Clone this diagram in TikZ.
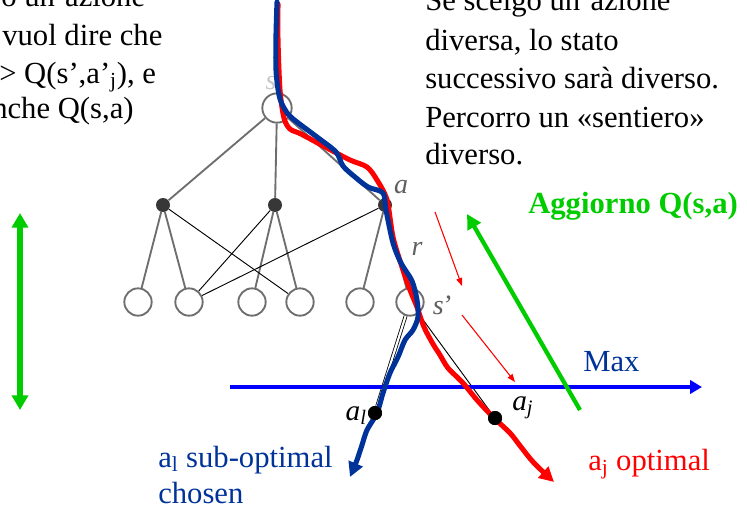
\documentclass[tikz,border=0pt]{standalone}
\usepackage{fontspec}
\setmainfont{Liberation Serif}
\usetikzlibrary{arrows.meta,positioning}
\definecolor{PathBlue}{RGB}{0,51,153}
\definecolor{PathRed}{RGB}{255,0,0}
\definecolor{AxisBlue}{RGB}{0,0,255}
\definecolor{ArrowGreen}{RGB}{0,204,0}
\definecolor{TreeGray}{RGB}{110,110,110}
\definecolor{DotGray}{RGB}{55,55,55}
\definecolor{LabelGray}{RGB}{95,95,95}

\begin{document}
\begin{tikzpicture}[x=0.75pt,y=-0.75pt,
  txt/.style={font=\fontsize{23}{28}\selectfont, inner sep=0pt, anchor=base west},
  lbl/.style={font=\fontsize{21}{25}\selectfont\itshape, text=LabelGray, inner sep=0pt},
  state/.style={circle, draw=TreeGray, line width=1.4pt, fill=white, minimum size=20.5pt, inner sep=0pt},
  act/.style={circle, fill=DotGray, minimum size=10.5pt, inner sep=0pt},
  pick/.style={circle, fill=black, minimum size=10.5pt, inner sep=0pt},
  edge/.style={draw=TreeGray, line width=1.4pt},
  crossline/.style={draw=black, line width=0.7pt},
  greenarrow/.style={draw=ArrowGreen, line width=3.2pt},
  redthin/.style={draw=PathRed, line width=0.8pt, -{Triangle[length=6pt,width=4.5pt]}},
  walk/.style={line width=3.8pt, line join=round, line cap=round,
    -{Triangle[length=11pt,width=11pt]}}]
\useasboundingbox (0,0) rectangle (747,512);
\clip (0,0) rectangle (747,512);

% text blocks
\node[txt] (lq1) at (1,6) {o un’azione};
\node[txt] (lq2) at (2,45) {vuol dire che};
\node[txt] (lq3) at (-1,83) {> Q(s’,a’\textsubscript{j}), e};
\node[txt] (lq4) at (-8,118) {nche Q(s,a)};
\node[txt] (rq1) at (425,10) {Se scelgo un’azione};
\node[txt] (rq2) at (425,50) {diversa, lo stato};
\node[txt] (rq3) at (425,88) {successivo sarà diverso.};
\node[txt] (rq4) at (425,127) {Percorro un «sentiero»};
\node[txt] (rq5) at (425,164) {diverso.};
\node[txt, font=\fontsize{23}{28}\selectfont\bfseries, text=ArrowGreen] (upd) at (528,213) {Aggiorno Q(s,a)};

% tree
\node[state, minimum size=22pt] (root) at (277,108) {};
\node[act] (d1) at (163,205) {};
\node[act] (d2) at (275,205) {};
\node[act] (d3) at (385,205) {};
\foreach \i/\xx in {1/138,2/189,3/252,4/300,5/360,6/410}
  \node[state] (l\i) at (\xx,302) {};
\draw[edge] (root) -- (d1);
\draw[edge] (root) -- (d2);
\draw[edge] (root) -- (d3);
\draw[edge] (d1) -- (l1);
\draw[edge] (d1) -- (l2);
\draw[edge] (d2) -- (l3);
\draw[edge] (d2) -- (l4);
\draw[edge] (d3) -- (l5);
\draw[edge] (d3) -- (l6);
\draw[crossline] (d1) -- (l4);
\draw[crossline] (d2) -- (l2);
\draw[crossline] (d3) -- (l2);
\node[lbl, text=LabelGray!35] (ls) at (271,83) {s};
\node[lbl] (la) at (401,187) {a};
\node[lbl] (lr) at (417,249) {r};
\node[lbl] (lsp) at (442,305) {s\kern-1.5pt’};

% next actions
\node[pick] (al) at (375,413) {};
\node[pick] (aj) at (495,418) {};
\draw[draw=black, double=white, double distance=1.6pt, line width=0.6pt] (l6) -- (al);
\draw[crossline] (l6) -- (aj);

% max axis
\coordinate (mx1) at (230,387);
\coordinate (mx2) at (702,387);
\draw[draw=AxisBlue, line width=3pt, -{Triangle[length=9pt,width=10pt]}] (mx1) -- (mx2);
\node[txt, text=PathBlue] (maxl) at (583,371) {Max};

% green arrows
\coordinate (gv1) at (20,213);
\coordinate (gv2) at (20,410);
\draw[greenarrow, line width=4pt, {Triangle[length=11pt,width=12pt]}-{Triangle[length=11pt,width=12pt]}] (gv1) -- (gv2);
\coordinate (ga1) at (580,410);
\coordinate (ga2) at (467,214);
\draw[greenarrow, -{Triangle[length=11pt,width=11pt]}] (ga1) -- (ga2);

% red step arrows
\coordinate (ra1) at (435,212);
\coordinate (ra2) at (462,286);
\coordinate (ra3) at (462,315);
\coordinate (ra4) at (515,382);
\draw[redthin] (ra1) -- (ra2);
\draw[redthin] (ra3) -- (ra4);

% paths
\draw[walk, draw=PathRed] plot[smooth, tension=0.5] coordinates {
  (278,4) (278,40) (280,90) (284,118) (290,129) (301,134) (327,148)
  (350,160) (367,167) (377,180) (387,200) (393,237) (402,267) (410,290)
  (417,307) (424,327) (433,344) (440,355) (448,368) (463,383) (477,400)
  (493,417) (510,433) (521,447) (534,463) (554,482)};
\draw[walk, draw=PathBlue] plot[smooth, tension=0.5] coordinates {
  (277,2) (276,35) (276,70) (279,95) (284,108) (292,118) (317,137)
  (336,152) (343,166) (355,177) (368,187) (383,193) (386,210) (393,243)
  (401,263) (412,281) (417,300) (418,317) (413,330) (405,340) (398,357)
  (390,373) (383,393) (377,413) (367,430) (362,445) (357,460) (350,477)};
\node[pick] (al2) at (al) {};
\node[pick] (aj2) at (aj) {};

% labels
\node[font=\fontsize{22}{26}\selectfont, inner sep=0pt, anchor=base east] (alt) at (367,420) {\textit{a}\textsubscript{\textit{l}}};
\node[font=\fontsize{22}{26}\selectfont, inner sep=0pt, anchor=base west] (ajt) at (512,410) {\textit{a}\textsubscript{\textit{j}}};
\node[txt, text=PathBlue] (subopt) at (158,467) {a\textsubscript{l} sub-optimal};
\node[txt, text=PathBlue] (chosen) at (158,503) {chosen};
\node[txt, text=PathRed] (opt) at (588,470) {a\textsubscript{j} optimal};
\end{tikzpicture}
\end{document}
